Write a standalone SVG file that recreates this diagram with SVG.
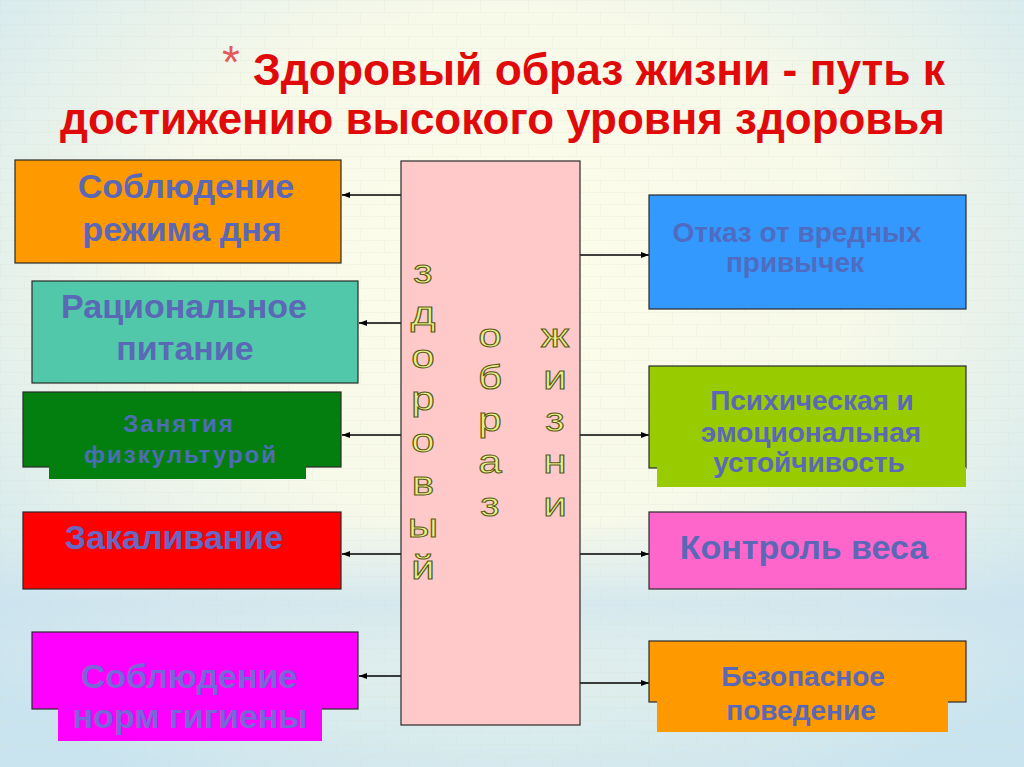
<svg xmlns="http://www.w3.org/2000/svg" width="1024" height="767" viewBox="0 0 1024 767">
<defs>
<radialGradient id="bg" cx="0.5" cy="0.35" r="0.75">
<stop offset="0" stop-color="#fdfdea"/>
<stop offset="0.45" stop-color="#f7f9e9"/>
<stop offset="1" stop-color="#c9e4ef"/>
</radialGradient>
<linearGradient id="band" x1="0" y1="0" x2="0" y2="1">
<stop offset="0" stop-color="#cfe5f2" stop-opacity="0"/>
<stop offset="0.5" stop-color="#c6e0f0" stop-opacity="0.8"/>
<stop offset="1" stop-color="#cfe5f2" stop-opacity="0"/>
</linearGradient>
<pattern id="grid" width="48" height="24" patternUnits="userSpaceOnUse">
<path d="M0 0.5H48M0.5 0V12M24.5 12V24M0 12.5H48" fill="none" stroke="#d8dcd0" stroke-width="1"/>
</pattern>
<marker id="ah" markerWidth="8" markerHeight="6" refX="8" refY="3" orient="auto" markerUnits="userSpaceOnUse">
<path d="M0,0 L8,3 L0,6 Z" fill="#000"/>
</marker>
<style>
.title{font-family:"Liberation Sans",Arial,sans-serif;font-weight:700;font-size:44px;fill:#e00a0a}
.box{stroke:#2a2a2a;stroke-width:1.2}
.lbl{font-family:"Liberation Sans",Arial,sans-serif;font-weight:700;fill:#5a68b6;text-anchor:middle}
.big{font-size:34px}
.mid{font-size:28px}
.small{font-size:24px;letter-spacing:2px}
.vl{font-family:"Liberation Sans",Arial,sans-serif;font-size:33px;fill:#eaf08a;stroke:#5a5a18;stroke-width:1;text-anchor:middle}
.conn{stroke:#000;stroke-width:1.6;fill:none}
</style>
</defs>

<g id="background">
<rect x="0" y="0" width="1024" height="767" fill="url(#bg)"/>
<rect x="0" y="0" width="1024" height="767" fill="url(#grid)" opacity="0.2"/>
<rect x="0" y="520" width="1024" height="170" fill="url(#band)" opacity="0.7"/>
</g>

<g id="title">
<text x="222" y="78" font-family="Liberation Sans,Arial,sans-serif" font-size="46" fill="#e45a5a">*</text>
<text class="title" x="253" y="85" textLength="692" lengthAdjust="spacingAndGlyphs">Здоровый образ жизни - путь к</text>
<text class="title" x="60" y="134" textLength="885" lengthAdjust="spacingAndGlyphs">достижению высокого уровня здоровья</text>
</g>

<g id="connectors">
<line class="conn" x1="401" y1="195" x2="342" y2="195" marker-end="url(#ah)"/>
<line class="conn" x1="401" y1="323" x2="359" y2="323" marker-end="url(#ah)"/>
<line class="conn" x1="401" y1="435" x2="342" y2="435" marker-end="url(#ah)"/>
<line class="conn" x1="401" y1="554" x2="342" y2="554" marker-end="url(#ah)"/>
<line class="conn" x1="401" y1="676" x2="359" y2="676" marker-end="url(#ah)"/>
<line class="conn" x1="580" y1="255" x2="649" y2="255" marker-end="url(#ah)"/>
<line class="conn" x1="580" y1="435" x2="649" y2="435" marker-end="url(#ah)"/>
<line class="conn" x1="580" y1="554" x2="649" y2="554" marker-end="url(#ah)"/>
<line class="conn" x1="580" y1="683" x2="649" y2="683" marker-end="url(#ah)"/>
</g>

<g id="center">
<rect class="box" x="401" y="161" width="179" height="564" fill="#ffc9c9"/>
<g transform="translate(423,0) scale(1.28,1)">
<text class="vl"><tspan x="0" y="283">з</tspan><tspan x="0" y="325">д</tspan><tspan x="0" y="368">о</tspan><tspan x="0" y="410">р</tspan><tspan x="0" y="452">о</tspan><tspan x="0" y="495">в</tspan><tspan x="0" y="537">ы</tspan><tspan x="0" y="579">й</tspan></text>
</g>
<g transform="translate(490,0) scale(1.28,1)">
<text class="vl"><tspan x="0" y="347">о</tspan><tspan x="0" y="389">б</tspan><tspan x="0" y="431">р</tspan><tspan x="0" y="473">а</tspan><tspan x="0" y="516">з</tspan></text>
</g>
<g transform="translate(555,0) scale(1.28,1)">
<text class="vl"><tspan x="0" y="347">ж</tspan><tspan x="0" y="389">и</tspan><tspan x="0" y="431">з</tspan><tspan x="0" y="473">н</tspan><tspan x="0" y="516">и</tspan></text>
</g>
</g>

<g id="left1">
<rect class="box" x="15" y="160" width="326" height="103" fill="#ff9900"/>
<text class="lbl big" x="186" y="198">Соблюдение</text>
<text class="lbl big" x="182" y="241">режима дня</text>
</g>
<g id="left2">
<rect class="box" x="32" y="281" width="326" height="102" fill="#52c8aa"/>
<text class="lbl big" x="184" y="318">Рациональное</text>
<text class="lbl big" x="185" y="360">питание</text>
</g>
<g id="left3">
<rect class="box" x="23" y="392" width="318" height="75" fill="#037f10"/>
<rect x="49" y="466" width="257" height="13" fill="#037f10"/>
<text class="lbl small" x="179" y="432" style="fill:#4d6cb8">Занятия</text>
<text class="lbl small" x="181" y="463" style="fill:#4d6cb8">физкультурой</text>
</g>
<g id="left4">
<rect class="box" x="23" y="512" width="318" height="77" fill="#ff0000"/>
<text class="lbl big" x="174" y="549" style="fill:#6a66c4">Закаливание</text>
</g>
<g id="left5">
<rect class="box" x="32" y="632" width="326" height="77" fill="#ff00ff"/>
<rect x="58" y="708" width="264" height="33" fill="#ff00ff"/>
<text class="lbl big" x="189" y="688" style="fill:#7a66d8">Соблюдение</text>
<text class="lbl big" x="190" y="728" style="fill:#7a66d8">норм гигиены</text>
</g>

<g id="right1">
<rect class="box" x="649" y="195" width="317" height="114" fill="#3399ff"/>
<text class="lbl mid" x="797" y="242" style="fill:#4f6cc0">Отказ от вредных</text>
<text class="lbl mid" x="795" y="272" style="fill:#4f6cc0">привычек</text>
</g>
<g id="right2">
<rect class="box" x="649" y="366" width="317" height="102" fill="#99cc00"/>
<rect x="657" y="467" width="309" height="20" fill="#99cc00"/>
<text class="lbl mid" x="812" y="410">Психическая и</text>
<text class="lbl mid" x="811" y="442">эмоциональная</text>
<text class="lbl mid" x="809" y="472">устойчивость</text>
</g>
<g id="right3">
<rect class="box" x="649" y="512" width="317" height="77" fill="#ff66cc"/>
<text class="lbl big" x="804" y="559">Контроль веса</text>
</g>
<g id="right4">
<rect class="box" x="649" y="641" width="317" height="61" fill="#ff9900"/>
<rect x="657" y="701" width="291" height="31" fill="#ff9900"/>
<text class="lbl mid" x="803" y="686">Безопасное</text>
<text class="lbl mid" x="801" y="720">поведение</text>
</g>
</svg>
